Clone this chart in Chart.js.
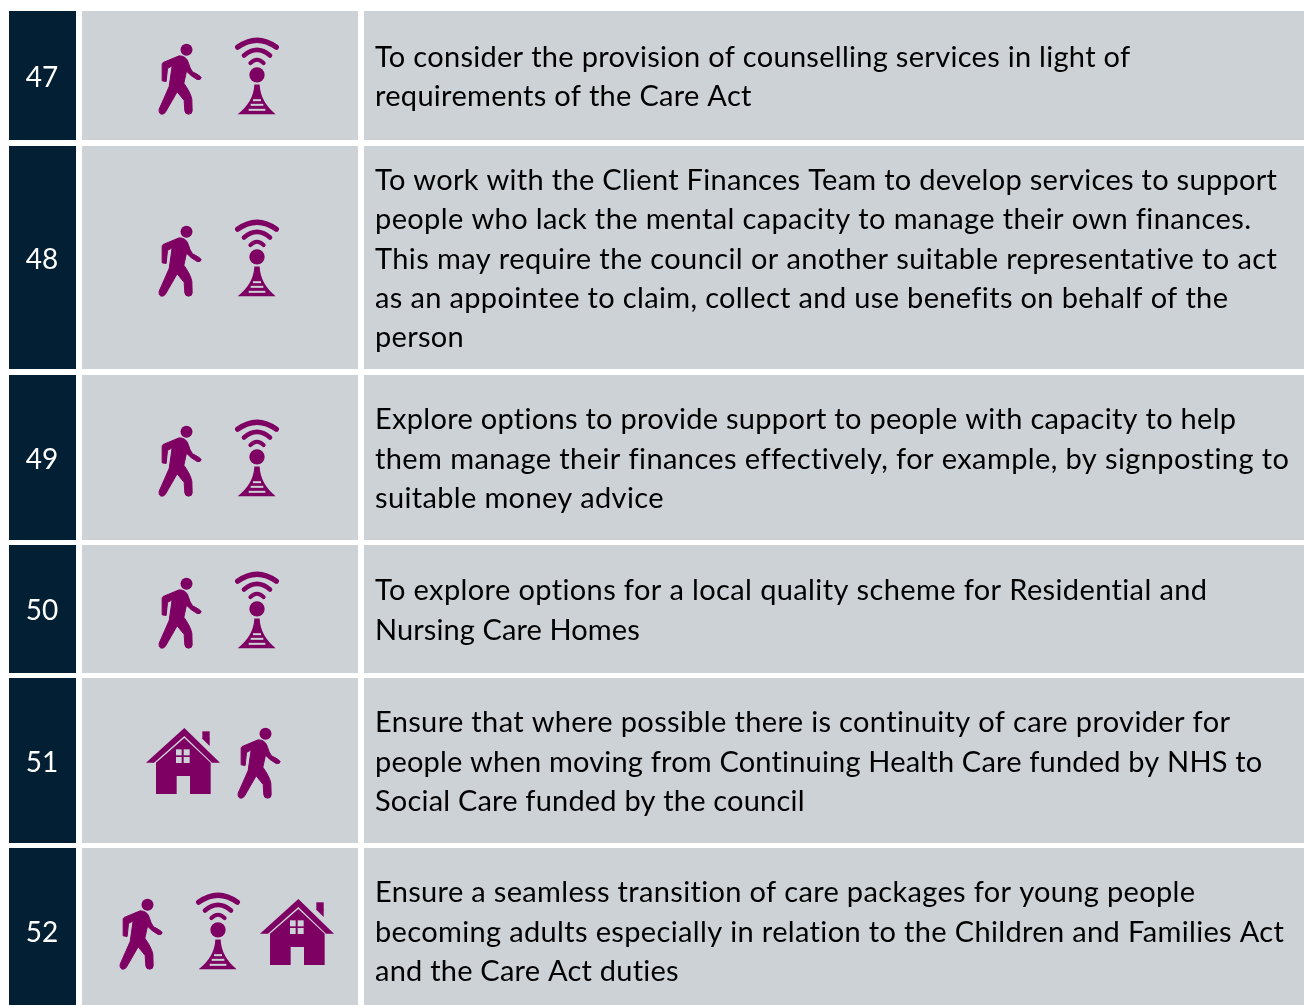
<!DOCTYPE html>
<html>
<head>
<meta charset="utf-8">
<title>Actions table</title>
<script src="https://cdn.jsdelivr.net/npm/chart.js@4"></script>
<style>
  html, body { margin: 0; padding: 0; background: #ffffff; overflow: hidden; }
  canvas { display: block; }
</style>
</head>
<body>
<canvas id="tableChart" width="1304" height="1005"></canvas>
<script>
// table content
const rowNumbers = ['47', '48', '49', '50', '51', '52'];
const rowTops = [11, 146, 375, 545, 678, 848];
const rowBottoms = [140, 369, 540, 673, 843, 1013];
const rowLines = [
    ['To consider the provision of counselling services in light of',
     'requirements of the Care Act'],
    ['To work with the Client Finances Team to develop services to support',
     'people who lack the mental capacity to manage their own finances.',
     'This may require the council or another suitable representative to act',
     'as an appointee to claim, collect and use benefits on behalf of the',
     'person'],
    ['Explore options to provide support to people with capacity to help',
     'them manage their finances effectively, for example, by signposting to',
     'suitable money advice'],
    ['To explore options for a local quality scheme for Residential and',
     'Nursing Care Homes'],
    ['Ensure that where possible there is continuity of care provider for',
     'people when moving from Continuing Health Care funded by NHS to',
     'Social Care funded by the council'],
    ['Ensure a seamless transition of care packages for young people',
     'becoming adults especially in relation to the Children and Families Act',
     'and the Care Act duties']
];

// icon centres per row
const walkerX = [180, 180, 180, 180, 259, 141];
const walkerY = [79, 261, 461, 613, 763, 934];
const mastX = [257, 257, 257, 257, 218];
const mastY = [76, 258, 458, 610, 931];
const houseX = [183, 297];
const houseY = [761, 932];

const navy = '#021f33';
const grey = '#cdd2d6';
const purple = '#7e0063';
const textFont = "Lato, sans-serif";
const lineHeight = 39.25;
// where each text line ends, Lato runs a little different from the original face
const lineEnds = [
    [1131, 752],
    [1278, 1252, 1278, 1229, 464],
    [1237, 1290, 664],
    [1208, 640],
    [1231, 1263, 805],
    [1196, 1285, 679]
];

// icons are sketched in 3x crop coordinates, then scaled down
function makeIcon(w, h, cx, cy, draw) {
    const c = document.createElement('canvas');
    c.width = w;
    c.height = h;
    const g = c.getContext('2d');
    g.translate(w / 2, h / 2);
    g.scale(1 / 3, 1 / 3);
    g.translate(-cx, -cy);
    g.fillStyle = purple;
    g.strokeStyle = purple;
    draw(g);
    return c;
}

const walkerIcon = makeIcon(48, 76, 540.5, 237.5, (g) => {
    g.beginPath();
    g.arc(560, 150, 18, 0, Math.PI * 2);
    g.fill();
    g.beginPath();
    g.moveTo(538, 168);
    g.lineTo(490, 188);
    g.lineTo(487, 192);
    g.lineTo(487, 243);
    g.lineTo(499, 245);
    g.lineTo(503, 206);
    g.lineTo(517, 198);
    g.lineTo(508, 260);
    g.lineTo(478, 328);
    g.quadraticCurveTo(476, 343, 487, 343);
    g.quadraticCurveTo(494, 343, 498, 335);
    g.lineTo(532, 276);
    g.lineTo(553, 302);
    g.lineTo(555, 333);
    g.quadraticCurveTo(556, 343, 566, 343);
    g.quadraticCurveTo(577, 343, 577, 333);
    g.lineTo(576, 298);
    g.quadraticCurveTo(572, 278, 552, 250);
    g.lineTo(560, 214);
    g.quadraticCurveTo(572, 228, 592, 239);
    g.quadraticCurveTo(604, 241, 604, 233);
    g.quadraticCurveTo(602, 228, 578, 216);
    g.quadraticCurveTo(570, 205, 566, 190);
    g.quadraticCurveTo(560, 168, 538, 168);
    g.closePath();
    g.fill();
    g.lineWidth = 3;
    g.lineJoin = 'round';
    g.stroke();
});

const mastIcon = makeIcon(48, 80, 770, 227.5, (g) => {
    g.lineCap = 'round';
    g.lineWidth = 16;
    g.beginPath();
    g.moveTo(712, 141);
    g.quadraticCurveTo(770, 99, 828, 141);
    g.stroke();
    g.lineWidth = 14;
    g.beginPath();
    g.moveTo(731, 166);
    g.quadraticCurveTo(770, 132, 809, 166);
    g.stroke();
    g.lineWidth = 12;
    g.beginPath();
    g.moveTo(750, 189);
    g.quadraticCurveTo(770, 168, 790, 189);
    g.stroke();
    g.beginPath();
    g.arc(770, 224, 23, 0, Math.PI * 2);
    g.fill();
    g.beginPath();
    g.moveTo(762, 253);
    g.lineTo(778, 253);
    g.quadraticCurveTo(780, 305, 826, 342);
    g.lineTo(712, 342);
    g.quadraticCurveTo(760, 305, 762, 253);
    g.closePath();
    g.fill();
    // rungs are cut out of the tower
    g.globalCompositeOperation = 'destination-out';
    g.fillRect(758, 297, 24, 6);
    g.fillRect(751, 311, 38, 6);
    g.fillRect(745, 326, 50, 6);
});

const houseIcon = makeIcon(78, 70, 129, 117, (g) => {
    // roof band
    g.beginPath();
    g.moveTo(18, 122);
    g.lineTo(133, 18);
    g.lineTo(240, 122);
    g.lineTo(216, 122);
    g.lineTo(133, 42);
    g.lineTo(42, 122);
    g.closePath();
    g.fill();
    // chimney
    g.fillRect(187, 28, 22, 22);
    g.beginPath();
    g.moveTo(187, 48);
    g.lineTo(209, 48);
    g.lineTo(209, 72);
    g.lineTo(187, 50);
    g.closePath();
    g.fill();
    // body with door
    g.beginPath();
    g.moveTo(48, 122);
    g.lineTo(133, 48);
    g.lineTo(212, 122);
    g.lineTo(212, 216);
    g.lineTo(150, 216);
    g.lineTo(150, 162);
    g.lineTo(110, 162);
    g.lineTo(110, 216);
    g.lineTo(48, 216);
    g.closePath();
    g.fill();
    // window panes
    g.globalCompositeOperation = 'destination-out';
    g.fillRect(108, 82, 17, 18);
    g.fillRect(131, 82, 18, 18);
    g.fillRect(108, 105, 17, 18);
    g.fillRect(131, 105, 18, 18);
});

// numbers and descriptions, written over the bars
const tableText = {
    id: 'tableText',
    afterDatasetsDraw(chart) {
        const { ctx, scales } = chart;
        const left = scales.x.getPixelForValue(375);
        ctx.save();
        ctx.textBaseline = 'alphabetic';
        rowNumbers.forEach((num, i) => {
            const mid = scales.y.getPixelForValue((rowTops[i] + rowBottoms[i]) / 2);
            ctx.fillStyle = '#ffffff';
            ctx.font = '28px ' + textFont;
            ctx.letterSpacing = '0px';
            ctx.textAlign = 'center';
            ctx.fillText(num, scales.x.getPixelForValue(42), mid + 11);

            const lines = rowLines[i];
            const first = mid + 11 - (lines.length - 1) * lineHeight / 2;
            ctx.fillStyle = '#000000';
            ctx.font = '29px ' + textFont;
            ctx.textAlign = 'left';
            lines.forEach((line, k) => {
                // stretch the line so it ends where the original does
                ctx.letterSpacing = '0.01px';
                const spare = lineEnds[i][k] - left - ctx.measureText(line).width;
                ctx.letterSpacing = (spare / line.length).toFixed(3) + 'px';
                ctx.fillText(line, left, first + k * lineHeight);
            });
        });
        ctx.restore();
    }
};

function cellData(centre) {
    return rowTops.map((top, i) => ({ x: centre, y: [top, rowBottoms[i]] }));
}

function iconData(xs, ys) {
    return xs.map((x, i) => ({ x: x, y: ys[i] }));
}

new Chart(document.getElementById('tableChart').getContext('2d'), {
    type: 'bar',
    data: {
        datasets: [
            { type: 'scatter', data: iconData(walkerX, walkerY), pointStyle: walkerIcon, order: 0 },
            { type: 'scatter', data: iconData(mastX, mastY), pointStyle: mastIcon, order: 0 },
            { type: 'scatter', data: iconData(houseX, houseY), pointStyle: houseIcon, order: 0 },
            { data: cellData(42.5), backgroundColor: navy, barThickness: 67, order: 1 },
            { data: cellData(220), backgroundColor: grey, barThickness: 276, order: 1 },
            { data: cellData(834), backgroundColor: grey, barThickness: 940, order: 1 }
        ]
    },
    options: {
        responsive: false,
        animation: false,
        events: [],
        grouped: false,
        inflateAmount: 0,
        layout: { padding: 0, autoPadding: false },
        plugins: { legend: { display: false }, tooltip: { enabled: false } },
        scales: {
            x: { type: 'linear', min: 0, max: 1304, offset: false, display: false },
            y: { type: 'linear', min: 0, max: 1005, reverse: true, display: false }
        }
    },
    plugins: [tableText]
});
</script>
</body>
</html>
